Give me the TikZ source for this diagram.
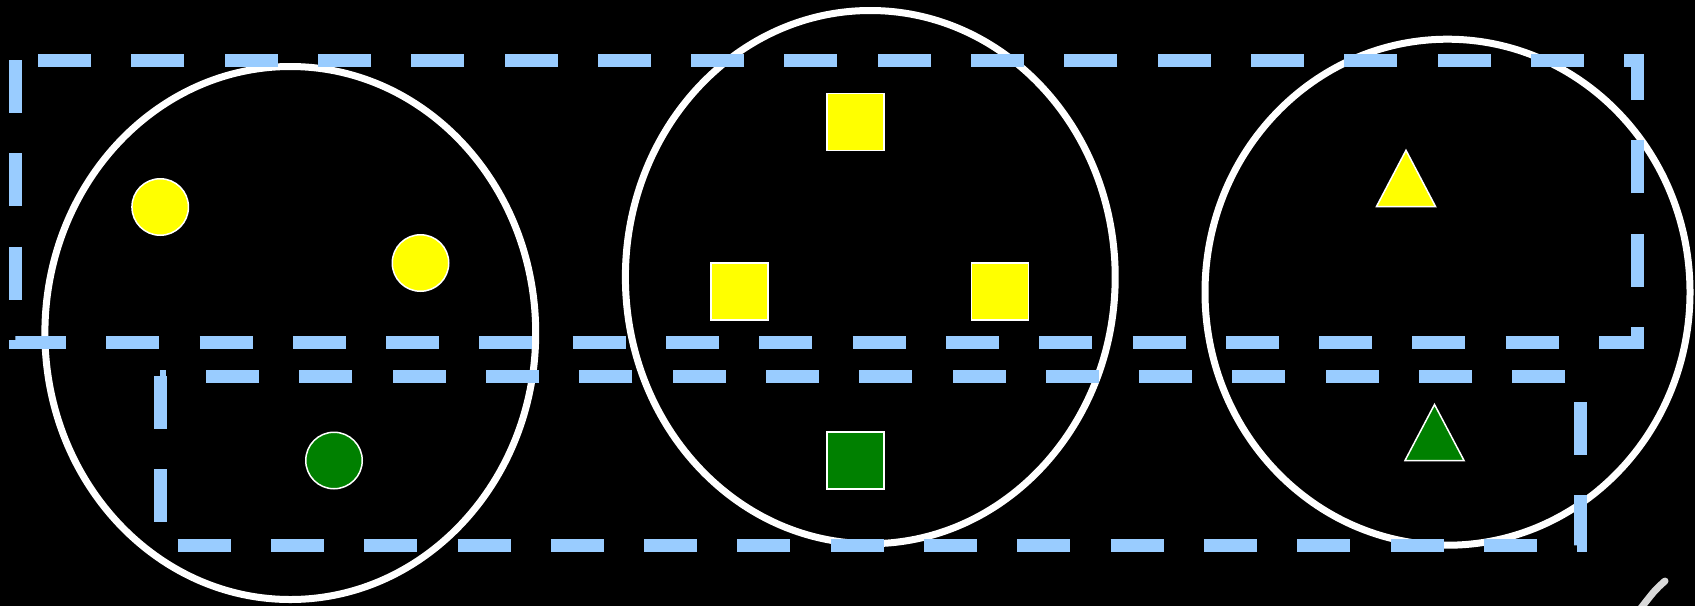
\documentclass[tikz,border=0pt]{standalone}
\usetikzlibrary{shapes.geometric}
\definecolor{dashblue}{RGB}{153,204,255}
\definecolor{shyellow}{RGB}{255,255,0}
\definecolor{shgreen}{RGB}{0,128,0}
\begin{document}
\begin{tikzpicture}[x=1pt,y=-1pt,
  setellipse/.style={ellipse, draw=white, line width=7pt, inner sep=0pt},
  dot/.style={circle, draw=white, line width=1.5pt, minimum size=56.5pt, inner sep=0pt},
  sq/.style={rectangle, draw=white, line width=1.5pt, minimum size=57pt, inner sep=0pt},
  tri/.style={draw=white, line width=1.5pt, line join=miter},
  grp/.style={draw=dashblue, line width=13pt, dash pattern=on 53pt off 40.3pt}]
\useasboundingbox (0,0) rectangle (1695,606);
\fill[black] (0,0) rectangle (1695,606);
% sets
\node[setellipse, minimum width=490.8pt, minimum height=533pt] (e1) at (290.3,333) {};
\node[setellipse, minimum width=489.8pt, minimum height=533.2pt] (e2) at (870.3,277.1) {};
\node[setellipse, minimum width=485pt, minimum height=506pt] (e3) at (1447.5,292.2) {};
% circles
\node[dot, fill=shyellow] (c1) at (160.2,207) {};
\node[dot, fill=shyellow] (c2) at (420.5,263) {};
\node[dot, fill=shgreen] (c3) at (334,460.5) {};
% squares
\node[sq, fill=shyellow] (s1) at (855.6,122.2) {};
\node[sq, fill=shyellow] (s2) at (739.4,291.3) {};
\node[sq, fill=shyellow] (s3) at (1000,291.3) {};
\node[sq, fill=shgreen] (s4) at (855.6,460.5) {};
% triangles
\coordinate (t1) at (1406,150.3);
\coordinate (t2) at (1434.5,404.5);
\filldraw[tri, fill=shyellow] (t1) -- ++(29.5,56.2) -- ++(-59,0) -- cycle;
\filldraw[tri, fill=shgreen] (t2) -- ++(29.5,56) -- ++(-59,0) -- cycle;
% dashed groups
\coordinate (ga) at (15,60);
\coordinate (gb) at (160,376);
\draw[grp] (ga) -- (15,342) -- (1637,342) -- (1637,60) -- cycle;
\draw[grp] (gb) -- (160,545) -- (1580,545) -- (1580,376) -- cycle;
% smudge
\coordinate (m1) at (1665,581);
\coordinate (m2) at (1641,608);
\draw[white, line width=7pt, line cap=round, opacity=0.85] (m1) .. controls (1655,590) .. (m2);
\end{tikzpicture}
\end{document}
